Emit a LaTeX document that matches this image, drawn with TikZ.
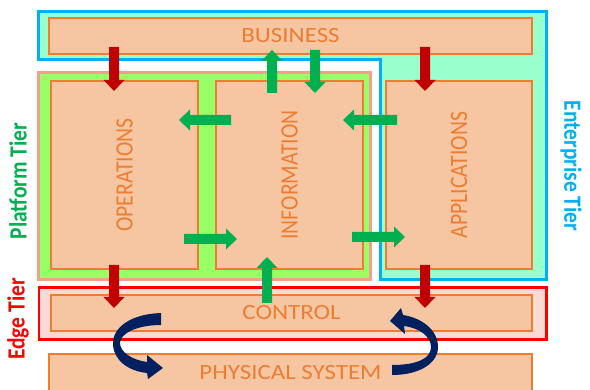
\documentclass[tikz,border=0pt]{standalone}
\usepackage{fontspec}
\setmainfont{Carlito}
\usepackage{graphicx}
\definecolor{peach}{HTML}{F6C6A2}
\definecolor{orng}{HTML}{ED7D31}
\definecolor{mint}{HTML}{99FFCC}
\definecolor{cyanb}{HTML}{00B0F0}
\definecolor{lgreen}{HTML}{99FF66}
\definecolor{salmon}{HTML}{F2A08C}
\definecolor{redb}{HTML}{FF0000}
\definecolor{pinkf}{HTML}{FADAD4}
\definecolor{dred}{HTML}{C00000}
\definecolor{garr}{HTML}{00B050}
\definecolor{navyb}{HTML}{002060}
\newcommand\hs[1]{\scalebox{1.15}[1]{#1}}
\newcommand\vt[1]{\hs{\rotatebox{90}{#1}}}
\tikzset{
  box/.style={draw=orng, line width=2pt, fill=peach, inner sep=0pt, text=orng,
    font=\fontsize{21.7}{24}\selectfont},
  tier/.style={inner sep=0pt, font=\fontsize{21.5}{24}\selectfont\bfseries},
  blockarrow/.pic={\fill (0,-5) -- (#1-11,-5) -- (#1-11,-10.5) -- (#1,0) -- (#1-11,10.5) -- (#1-11,5) -- (0,5) -- cycle;},
}
\begin{document}
\begin{tikzpicture}[x=1pt,y=-1pt]
\useasboundingbox (0,0) rectangle (590,390);
\clip (0,0) rectangle (590,390);
% tiers
\filldraw[fill=mint, draw=cyanb, line width=3pt] (38.5,11.5) -- (546.5,11.5) -- (546.5,279.5) -- (380.5,279.5) -- (380.5,59.5) -- (38.5,59.5) -- cycle;
\filldraw[fill=lgreen, draw=salmon, line width=3pt] (38.5,72.5) rectangle (370.5,279.5);
\filldraw[fill=pinkf, draw=redb, line width=2.5pt] (39,287.5) rectangle (546.5,339.5);
% tier labels
\node[tier, text=garr] (pt) at (18,181) {\vt{Platform Tier}};
\node[tier, text=redb] (edt) at (18,319) {\vt{Edge Tier}};
\node[tier, text=cyanb] (ent) at (571,166) {\hs{\rotatebox{-90}{Enterprise Tier}}};
% boxes
\node[box, minimum width=483pt, minimum height=36pt] (bus) at (290.5,36) {\hs{BUSINESS}};
\node[box, minimum width=147pt, minimum height=188pt] (ops) at (124.5,175) {\vt{OPERATIONS}};
\node[box, minimum width=147pt, minimum height=188pt] (inf) at (289.5,175) {\vt{INFORMATION}};
\node[box, minimum width=146pt, minimum height=188pt] (app) at (459,175) {\vt{APPLICATIONS}};
\node[box, minimum width=481pt, minimum height=36pt] (ctl) at (291.5,313) {\hs{CONTROL}};
\node[box, minimum width=483pt, minimum height=38pt] (phy) at (290.5,373) {\hs{PHYSICAL SYSTEM}};
% red arrows
\pic[color=dred, rotate=-90] at (114,47) {blockarrow=44};
\pic[color=dred, rotate=-90] at (425,47) {blockarrow=44};
\pic[color=dred, rotate=-90] at (114,265) {blockarrow=43};
\pic[color=dred, rotate=-90] at (425,265) {blockarrow=43};
% green arrows
\pic[color=garr, rotate=90] at (272,93) {blockarrow=43};
\pic[color=garr, rotate=-90] at (315,50) {blockarrow=43};
\pic[color=garr, rotate=180] at (231,120) {blockarrow=52};
\pic[color=garr, rotate=180] at (397,120) {blockarrow=54};
\pic[color=garr] at (184,239) {blockarrow=53};
\pic[color=garr] at (352,237) {blockarrow=53};
\pic[color=garr, rotate=90] at (267,303) {blockarrow=46};
% curved navy arrows
\fill[navyb] (161,313) .. controls (130,314) and (113,328) .. (113,343)
  .. controls (113,360) and (128,371) .. (147,373) -- (148,379) -- (163,368) -- (147,355) -- (147,362)
  .. controls (132,360) and (120,352) .. (120,343) .. controls (120,334) and (136,325) .. (161,325) -- cycle;
\fill[navyb] (392,375) .. controls (420,375) and (438,363) .. (438,347)
  .. controls (438,330) and (422,318) .. (403,315) -- (401,308) -- (390,321) -- (405,334) -- (404,326)
  .. controls (420,328) and (431,337) .. (431,347) .. controls (431,358) and (418,365) .. (392,365) -- cycle;
\end{tikzpicture}
\end{document}
